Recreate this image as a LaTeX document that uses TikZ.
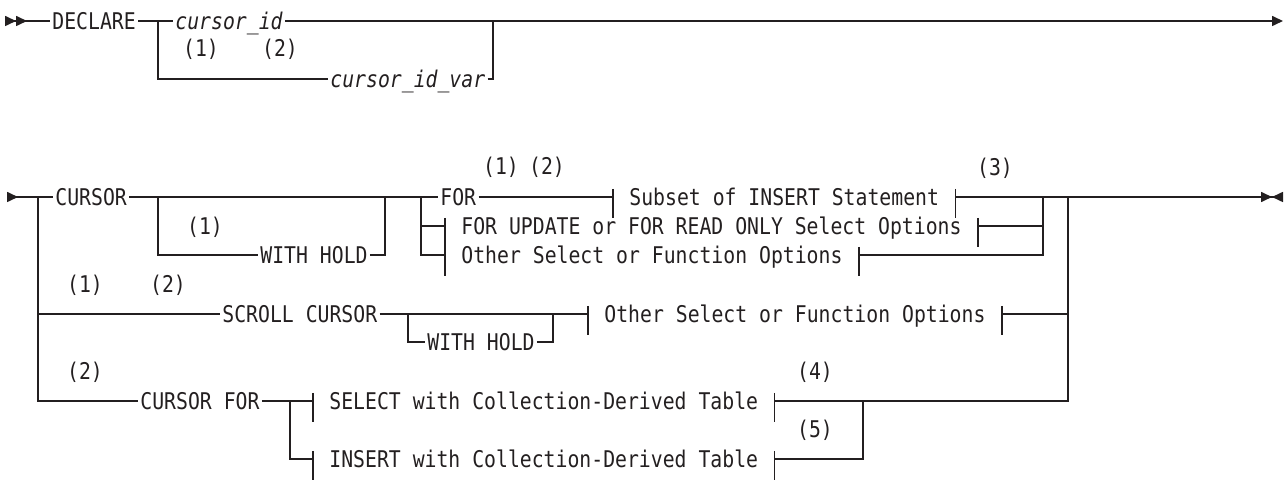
\documentclass[tikz,border=0pt]{standalone}
\usepackage{fontspec}
\usetikzlibrary{
  arrows.meta
}
\newfontfamily\diagfont[FakeStretch=0.86]{DejaVu Sans Mono}
\definecolor{DiagInk}{RGB}{35, 31, 32}
\tikzset{
    rr/.style={draw=DiagInk, line width=0.8pt},
    kw/.style={font=\fontsize{11.5}{13}\selectfont\diagfont, text=DiagInk, inner xsep=1pt, inner ysep=0pt, text height=8.4pt, text depth=0pt, anchor=west},
    var/.style={kw, font=\fontsize{11.5}{13}\selectfont\diagfont\itshape},
    frag/.style={kw, inner xsep=8pt},
    fnote/.style={font=\fontsize{11.5}{13}\selectfont\diagfont, text=DiagInk, inner sep=0pt},
    rrtip/.tip={Triangle[length=5.5pt, width=5pt]}
}

\begin{document}
\begin{tikzpicture}[x=0.5pt, y=-0.5pt]
    \useasboundingbox (0,0) rectangle (1285,480);

    % DECLARE line
    \coordinate (in1) at (5,21);
    \node[kw] (declare) at (50,21) {DECLARE};
    \coordinate (b1) at (158,21);
    \node[var] (cid) at (173,21) {cursor\_id};
    \node[var] (civ) at (328,79) {cursor\_id\_var};
    \coordinate (j1) at (493,21);
    \coordinate (out1) at (1283,21);
    \node[fnote] (n1a) at (201,49) {(1)};
    \node[fnote] (n1b) at (280,49) {(2)};

    \draw[rr, {rrtip[reversed] rrtip[reversed]}-] (in1) -- (declare);
    \draw[rr, -{rrtip[]}] (declare) -- (cid) -- (out1);
    \draw[rr] (b1) |- (civ.west);
    \draw[rr] (civ.east) -| (j1);

    % CURSOR line
    \coordinate (in2) at (7,197);
    \coordinate (b2) at (38,197);
    \node[kw] (cursor) at (53,197) {CURSOR};
    \coordinate (b3) at (158,197);
    \node[kw] (wh1) at (258,255) {WITH HOLD};
    \coordinate (j3) at (385,197);
    \coordinate (b4) at (421,197);
    \node[kw] (for) at (438,197) {FOR};
    \node[frag] (sub) at (613,197) {Subset of INSERT Statement};
    \node[frag] (upd) at (445,226) {FOR UPDATE or FOR READ ONLY Select Options};
    \node[frag] (oth) at (445,255) {Other Select or Function Options};
    \coordinate (j4) at (1043,197);
    \coordinate (j2) at (1068,197);
    \coordinate (d1) at (1073,197);
    \coordinate (d2) at (1097,197);
    \coordinate (out2) at (1283,197);
    \node[fnote] (n2a) at (205,227) {(1)};
    \node[fnote] (n2b) at (501,167) {(1)};
    \node[fnote] (n2c) at (547,167) {(2)};
    \node[fnote] (n2d) at (995,168) {(3)};

    \draw[rr, {rrtip[reversed]}-] (in2) -- (cursor);
    \draw[rr] (cursor) -- (for);
    \draw[rr] (b3) |- (wh1.west);
    \draw[rr] (wh1.east) -| (j3);
    \draw[rr] (for) -- (sub.west);
    \draw[rr, -{rrtip[] rrtip[reversed]}] (sub.east) -- (out2);
    \draw[rr, line width=1.4pt] (d1) -- (d2);
    \draw[rr] (b4) |- (upd.west);
    \draw[rr] (b4) |- (oth.west);
    \draw[rr] (upd.east) -| (j4);
    \draw[rr] (oth.east) -| (j4);

    % SCROLL CURSOR line
    \node[kw] (scr) at (220,314) {SCROLL CURSOR};
    \coordinate (b5) at (408,314);
    \node[kw] (wh2) at (425,342) {WITH HOLD};
    \coordinate (j5) at (553,314);
    \node[frag] (oth2) at (588,314) {Other Select or Function Options};
    \node[fnote] (n3a) at (85,285) {(1)};
    \node[fnote] (n3b) at (168,285) {(2)};

    \draw[rr] (b2) |- (scr.west);
    \draw[rr] (scr) -- (oth2.west);
    \draw[rr] (b5) |- (wh2.west);
    \draw[rr] (wh2.east) -| (j5);
    \draw[rr] (oth2.east) -| (j2);

    % CURSOR FOR line
    \node[kw] (cfor) at (138,401) {CURSOR FOR};
    \coordinate (b6) at (290,401);
    \node[frag] (sel) at (313,401) {SELECT with Collection-Derived Table};
    \node[frag] (ins) at (313,459) {INSERT with Collection-Derived Table};
    \coordinate (j6) at (863,401);
    \node[fnote] (n4a) at (85,372) {(2)};
    \node[fnote] (n4b) at (815,372) {(4)};
    \node[fnote] (n4c) at (815,430) {(5)};

    \draw[rr] (b2) |- (cfor.west);
    \draw[rr] (cfor) -- (sel.west);
    \draw[rr] (b6) |- (ins.west);
    \draw[rr] (sel.east) -| (j2);
    \draw[rr] (ins.east) -| (j6);

    % fragment ticks
    \foreach \f in {sub,upd,oth,oth2,sel,ins} {
        \draw[rr] (\f.west) ++(0,-8) -- ++(0,29) (\f.east) ++(0,-8) -- ++(0,29);
    }
\end{tikzpicture}
\end{document}
